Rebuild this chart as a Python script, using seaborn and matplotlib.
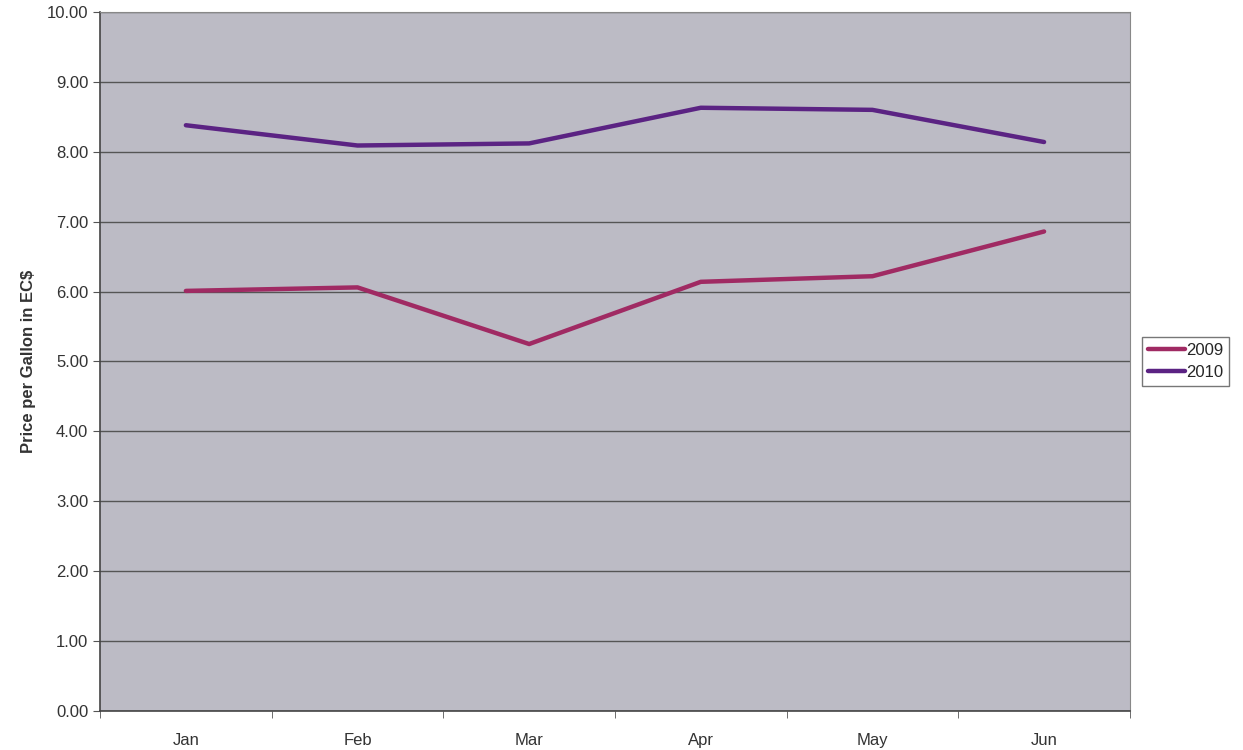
import pandas as pd
import matplotlib.pyplot as plt
import seaborn as sns
from matplotlib.ticker import FixedLocator

# data
months = ['Jan', 'Feb', 'Mar', 'Apr', 'May', 'Jun']
price_2009 = [6.01, 6.06, 5.25, 6.14, 6.22, 6.86]
price_2010 = [8.38, 8.09, 8.12, 8.63, 8.60, 8.14]

df = pd.DataFrame({
    'Month': months * 2,
    'x': list(range(len(months))) * 2,
    'Price': price_2009 + price_2010,
    'Year': ['2009'] * len(months) + ['2010'] * len(months),
})

sns.set_style('white')
plt.rcParams['font.family'] = ['Liberation Sans', 'DejaVu Sans']

fig = plt.figure(figsize=(12.43, 7.5), dpi=100)
ax = fig.add_axes([0.0805, 0.052, 0.8285, 0.932])
ax.set_facecolor('#bcbbc5')

palette = {'2009': '#a02a63', '2010': '#5b2383'}
sns.lineplot(data=df, x='x', y='Price', hue='Year', palette=palette,
             linewidth=3.2, ax=ax)

ax.set_xlim(-0.5, len(months) - 0.5)
ax.set_ylim(0, 10)
ax.set_yticks([i for i in range(11)])
ax.set_yticklabels([f'{i:.2f}' for i in range(11)], fontsize=12, color='#333333')
ax.set_xticks(range(len(months)))
ax.set_xticklabels(months, fontsize=12, color='#333333')
ax.xaxis.set_minor_locator(FixedLocator([i - 0.5 for i in range(len(months) + 1)]))
ax.tick_params(axis='x', which='major', length=0, pad=16)
ax.tick_params(axis='x', which='minor', bottom=True, length=5, color='#555555',
               direction='out')
ax.tick_params(axis='y', length=5, color='#555555', direction='out', left=True)
ax.yaxis.grid(True, color='#555555', linewidth=1)
ax.set_axisbelow(True)

for side in ['top', 'right']:
    ax.spines[side].set_color('#888888')
for side in ['left', 'bottom']:
    ax.spines[side].set_color('#444444')
    ax.spines[side].set_linewidth(1.2)

ax.set_xlabel('')
ax.set_ylabel('Price per Gallon in EC$', fontsize=12, fontweight='bold',
              color='#333333', labelpad=8)

leg = ax.legend(loc='center left', bbox_to_anchor=(1.012, 0.5), frameon=True,
                fontsize=12, handlelength=2.2, handletextpad=0.1,
                borderpad=0.35, labelspacing=0.4, borderaxespad=0,
                fancybox=False)
leg.get_frame().set_edgecolor('#555555')
leg.get_frame().set_linewidth(1)
for line in leg.get_lines():
    line.set_linewidth(3.2)

fig.savefig('out.png', dpi=100)
